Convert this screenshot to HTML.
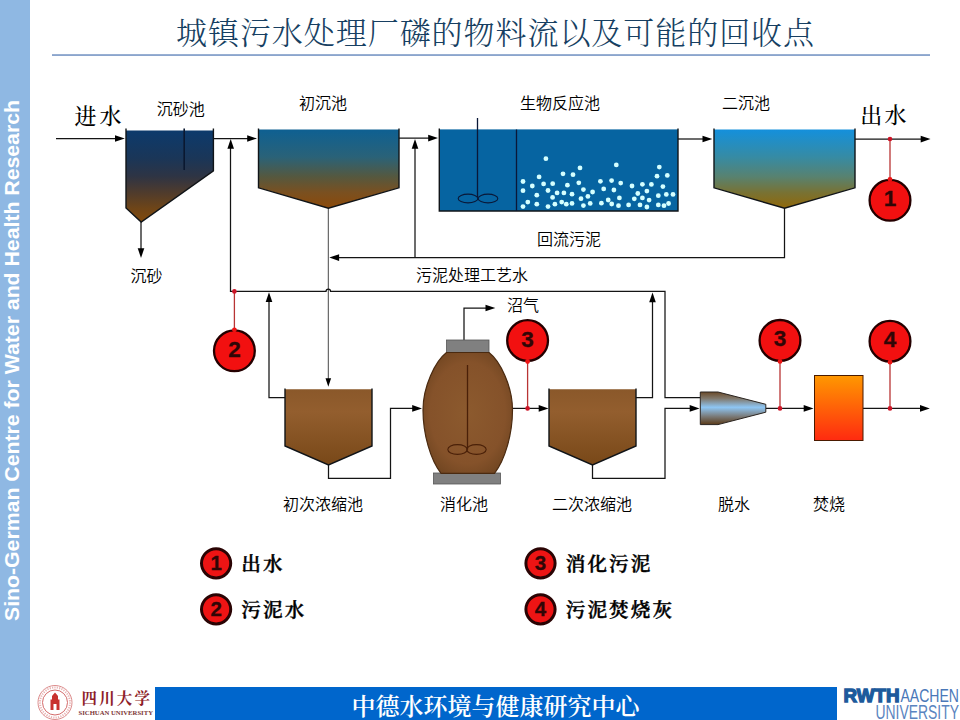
<!DOCTYPE html>
<html lang="zh-CN">
<head>
<meta charset="utf-8">
<title>城镇污水处理厂磷的物料流以及可能的回收点</title>
<style>
html,body{margin:0;padding:0;background:#fff;}
body{width:960px;height:720px;overflow:hidden;position:relative;}
svg{display:block;position:absolute;left:0;top:0;}
.serif{font-family:"Liberation Serif","Noto Serif CJK SC",serif;}
.sans{font-family:"Liberation Sans","Noto Sans CJK SC",sans-serif;}
.lbl{font-family:"Liberation Sans","Noto Sans CJK SC",sans-serif;font-size:16px;font-weight:350;fill:#000;}
.io{font-family:"Liberation Serif","Noto Serif CJK SC",serif;font-size:22px;font-weight:500;fill:#000;}
.leg{font-family:"Liberation Serif","Noto Serif CJK SC",serif;font-size:19.6px;font-weight:600;letter-spacing:2.1px;fill:#000;stroke:#000;stroke-width:0.4px;}
.num{font-family:"Liberation Sans",sans-serif;font-weight:700;fill:#300606;stroke:#300606;stroke-width:0.3px;text-anchor:middle;}
.ln{stroke:#141414;stroke-width:1.25;fill:none;}
.rl{stroke:#b83434;stroke-width:1.3;fill:none;}
.ah{fill:#000;stroke:none;}
.tk{stroke:#101418;stroke-width:1.4;fill:none;stroke-linejoin:miter;}
</style>
</head>
<body>
<svg width="960" height="720" viewBox="0 0 960 720">
<defs>
  <linearGradient id="gGrit" x1="0" y1="0" x2="0" y2="1">
    <stop offset="0" stop-color="#0c3a6c"/><stop offset="0.3" stop-color="#1a3658"/><stop offset="0.5" stop-color="#2e3444"/><stop offset="0.65" stop-color="#4a3a30"/><stop offset="0.85" stop-color="#6e4518"/><stop offset="1" stop-color="#824a0c"/>
  </linearGradient>
  <linearGradient id="gPrim" x1="0" y1="0" x2="0" y2="1">
    <stop offset="0" stop-color="#0e6092"/><stop offset="0.35" stop-color="#2a6278"/><stop offset="0.6" stop-color="#55583f"/><stop offset="0.8" stop-color="#7a5020"/><stop offset="1" stop-color="#8c4a0a"/>
  </linearGradient>
  <linearGradient id="gSec" x1="0" y1="0" x2="0" y2="1">
    <stop offset="0" stop-color="#1490dc"/><stop offset="0.35" stop-color="#368ba4"/><stop offset="0.6" stop-color="#588270"/><stop offset="0.8" stop-color="#787234"/><stop offset="1" stop-color="#90680a"/>
  </linearGradient>
  <linearGradient id="gThick" x1="0" y1="0" x2="0" y2="1">
    <stop offset="0" stop-color="#8a582a"/><stop offset="0.3" stop-color="#935e2e"/><stop offset="1" stop-color="#784818"/>
  </linearGradient>
  <radialGradient id="gDig" cx="0.5" cy="0.5" r="0.6">
    <stop offset="0" stop-color="#8c5a2e"/><stop offset="0.7" stop-color="#85522a"/><stop offset="1" stop-color="#6e4420"/>
  </radialGradient>
  <linearGradient id="gDew" x1="0" y1="0" x2="0" y2="1">
    <stop offset="0" stop-color="#6b4a28"/><stop offset="0.2" stop-color="#80786c"/><stop offset="0.47" stop-color="#8ec6f4"/><stop offset="0.75" stop-color="#7a7a78"/><stop offset="1" stop-color="#5a3a18"/>
  </linearGradient>
  <linearGradient id="gInc" x1="0" y1="0" x2="0" y2="1">
    <stop offset="0" stop-color="#ff9800"/><stop offset="1" stop-color="#ff2a10"/>
  </linearGradient>
</defs>

<!-- sidebar -->
<rect x="0" y="0" width="30" height="720" fill="#8fb8e3"/>
<text class="sans" transform="translate(19,621) rotate(-90)" font-size="20" font-weight="700" fill="#fff" textLength="521" lengthAdjust="spacingAndGlyphs">Sino-German Centre for Water and Health Research</text>

<!-- title -->
<text class="serif" x="495.500" y="43.500" font-size="31" font-weight="300" letter-spacing="0.95" text-anchor="middle" fill="#173f62">城镇污水处理厂磷的物料流以及可能的回收点</text>
<rect x="52" y="54.200" width="878" height="1.700" fill="#7f9cc8"/>

<!-- footer -->
<rect x="155" y="687" width="682" height="33" fill="#0066cc"/>
<text class="serif" x="495.500" y="715" font-size="24" font-weight="600" text-anchor="middle" fill="#fff">中德水环境与健康研究中心</text>

<!-- Sichuan University logo -->
<g id="scu">
  <circle cx="55" cy="702.500" r="17" fill="#fff" stroke="#dc8c8c" stroke-width="1"/>
  <circle cx="55" cy="702.500" r="15" fill="none" stroke="#e8b4b4" stroke-width="2" stroke-dasharray="1.2 1.2"/>
  <circle cx="55" cy="702.500" r="12.500" fill="#fff" stroke="#d46a6a" stroke-width="1"/>
  <path d="M50.500 710 V699.500 L52 699.500 L52 696 L55 692.500 L58 696 L58 699.500 L59.500 699.500 V710 H56.500 V704 H53.500 V710 Z" fill="#c8322e"/>
  <text x="81.500" y="704.200" font-size="15.500" font-weight="700" fill="#8e1e2a" class="serif" textLength="68.500" lengthAdjust="spacing">四川大学</text>
  <text x="78.500" y="715.300" font-size="6.8" font-weight="700" fill="#7c3636" class="serif" textLength="74.500" lengthAdjust="spacingAndGlyphs">SICHUAN UNIVERSITY</text>
</g>

<!-- RWTH logo -->
<g id="rwth">
  <text x="843.500" y="702" font-size="18.6" font-weight="700" fill="#1c5a9c" class="sans" textLength="56" lengthAdjust="spacingAndGlyphs" stroke="#1c5a9c" stroke-width="1.3">RWTH</text>
  <text x="900.500" y="702" font-size="18.6" fill="#4a78b8" class="sans" textLength="58.500" lengthAdjust="spacingAndGlyphs">AACHEN</text>
  <text x="875.500" y="719.300" font-size="20" fill="#5a84c0" class="sans" textLength="83.500" lengthAdjust="spacingAndGlyphs">UNIVERSITY</text>
</g>

<!-- ============ diagram ============ -->
<g class="ln">
  <path d="M56 138.5 H118"/>
  <path d="M213.400 138.5 H250"/>
  <path d="M399 138.1 H432"/>
  <path d="M678 139.0 H705"/>
  <path d="M855 139.0 H922"/>
  <path d="M141 222 V250"/>
  <path d="M328.3 208 V381" stroke-width="0.9" stroke="#333"/>
  <path d="M784.5 208 V257.6 H338"/>
  <path d="M415 257.6 V148"/>
  <path d="M230.5 148 V291.4 H326 a2.3 2.3 0 0 1 4.600 0 H665 V397.5 H700"/>
  <path d="M285 397.5 H269 V301"/>
  <path d="M636 397.5 H652.5 V301"/>
  <path d="M328.5 465 V478.4 H390.5 V408.4 H414"/>
  <path d="M592.5 465 V478.4 H665 V408.4 H692"/>
  <path d="M512 408.4 H540"/>
  <path d="M766 408.4 H805"/>
  <path d="M863 408.4 H922"/>
  <path d="M464 340 V308 H487"/>
</g>
<g class="ah">
  <path d="M124.8 138.5 l-9.8 -3.3 v6.6 z"/><path d="M257 138.5 l-9.8 -3.3 v6.6 z"/><path d="M438 138.1 l-9.8 -3.3 v6.6 z"/><path d="M712.3 139.0 l-9.8 -3.3 v6.6 z"/><path d="M930.5 139.1 l-9.8 -3.3 v6.6 z"/>
  <path d="M141 258 l-3.3 -9.8 h6.6 z"/><path d="M328.3 386.8 l-2.8 -8.6 h5.6 z"/><path d="M329.3 257.6 l9.8 -3.3 v6.6 z"/>
  <path d="M415 139 l-3.3 9.8 h6.6 z"/><path d="M230.7 139 l-3.3 9.8 h6.6 z"/><path d="M269 292.2 l-3.3 9.8 h6.6 z"/><path d="M652.5 292.5 l-3.3 9.8 h6.6 z"/>
  <path d="M422 408.4 l-9.8 -3.3 v6.6 z"/><path d="M699.5 408.4 l-9.8 -3.3 v6.6 z"/><path d="M548.5 408.4 l-9.8 -3.3 v6.6 z"/><path d="M813.5 408.4 l-9.8 -3.3 v6.6 z"/><path d="M929.8 408.4 l-9.8 -3.3 v6.6 z"/>
  <path d="M495.3 308 l-9.8 -3.3 v6.6 z"/>
</g>

<!-- grit chamber -->
<path d="M126 130.600 H213.400 V170.800 L141.200 222 L126 208 Z" fill="url(#gGrit)"/>
<path class="tk" d="M126 128.600 V208 L141.200 222 L213.400 170.800 V128.600"/>
<path d="M184.200 128.600 V170" stroke="#0a1830" stroke-width="1.6" fill="none"/>
<!-- primary clarifier -->
<path d="M258.500 129.400 H399 V187.800 L328.400 208.200 L258.500 187.800 Z" fill="url(#gPrim)"/>
<path class="tk" d="M258.500 128.600 V187.800 L328.400 208.200 L399 187.800 V128.600"/>
<!-- bio reactor -->
<rect x="439.300" y="129.400" width="238.700" height="81.600" fill="#0664a1"/>
<path class="tk" d="M439.300 128.600 V211 H678 V128.600" stroke="#081c38"/>
<path d="M516.500 129.400 V211 M477.500 118 V197" stroke="#0a1838" stroke-width="1.3" fill="none"/>
<ellipse cx="468" cy="198.500" rx="9.800" ry="4.400" fill="none" stroke="#0a1838" stroke-width="1.1"/>
<ellipse cx="488" cy="198.500" rx="9.800" ry="4.400" fill="none" stroke="#0a1838" stroke-width="1.1"/>
<g id="bubbles" fill="#d4ffff"><circle cx="545.9" cy="158.7" r="2.4"/><circle cx="580.0" cy="167.9" r="2.4"/><circle cx="563.0" cy="173.8" r="2.4"/><circle cx="573.0" cy="174.7" r="2.4"/><circle cx="539.1" cy="176.9" r="2.4"/><circle cx="523.0" cy="181.5" r="2.4"/><circle cx="578.8" cy="182.8" r="2.4"/><circle cx="543.6" cy="183.9" r="2.4"/><circle cx="552.7" cy="183.7" r="2.4"/><circle cx="567.4" cy="185.2" r="2.4"/><circle cx="532.3" cy="186.0" r="2.4"/><circle cx="583.4" cy="189.6" r="2.4"/><circle cx="523.0" cy="190.7" r="2.4"/><circle cx="548.0" cy="190.5" r="2.4"/><circle cx="592.6" cy="192.0" r="2.4"/><circle cx="557.1" cy="192.9" r="2.4"/><circle cx="563.9" cy="192.9" r="2.4"/><circle cx="572.0" cy="194.2" r="2.4"/><circle cx="536.8" cy="195.2" r="2.4"/><circle cx="587.9" cy="196.4" r="2.4"/><circle cx="552.6" cy="197.4" r="2.4"/><circle cx="581.0" cy="198.7" r="2.4"/><circle cx="527.8" cy="202.1" r="2.4"/><circle cx="561.7" cy="202.1" r="2.4"/><circle cx="554.9" cy="204.2" r="2.4"/><circle cx="566.3" cy="204.2" r="2.4"/><circle cx="572.0" cy="203.4" r="2.4"/><circle cx="590.2" cy="203.4" r="2.4"/><circle cx="536.8" cy="204.2" r="2.4"/><circle cx="583.4" cy="205.6" r="2.4"/><circle cx="523.0" cy="206.6" r="2.4"/><circle cx="548.0" cy="206.6" r="2.4"/><circle cx="616.3" cy="164.9" r="2.4"/><circle cx="659.3" cy="167.1" r="2.4"/><circle cx="657.0" cy="176.2" r="2.4"/><circle cx="667.3" cy="175.4" r="2.4"/><circle cx="600.4" cy="181.3" r="2.4"/><circle cx="611.6" cy="180.6" r="2.4"/><circle cx="620.7" cy="183.1" r="2.4"/><circle cx="632.0" cy="186.0" r="2.4"/><circle cx="642.4" cy="184.3" r="2.4"/><circle cx="651.4" cy="184.4" r="2.4"/><circle cx="662.9" cy="186.6" r="2.4"/><circle cx="603.7" cy="188.9" r="2.4"/><circle cx="613.9" cy="190.0" r="2.4"/><circle cx="646.9" cy="191.1" r="2.4"/><circle cx="637.8" cy="193.5" r="2.4"/><circle cx="658.3" cy="195.7" r="2.4"/><circle cx="666.3" cy="194.4" r="2.4"/><circle cx="673.0" cy="194.4" r="2.4"/><circle cx="619.4" cy="197.9" r="2.4"/><circle cx="634.3" cy="198.8" r="2.4"/><circle cx="642.4" cy="197.9" r="2.4"/><circle cx="649.1" cy="200.1" r="2.4"/><circle cx="608.2" cy="200.0" r="2.4"/><circle cx="601.4" cy="203.2" r="2.4"/><circle cx="611.7" cy="204.0" r="2.4"/><circle cx="618.5" cy="205.7" r="2.4"/><circle cx="628.6" cy="204.9" r="2.4"/><circle cx="640.0" cy="204.9" r="2.4"/><circle cx="646.9" cy="207.0" r="2.4"/><circle cx="658.3" cy="204.9" r="2.4"/><circle cx="664.0" cy="205.7" r="2.4"/><circle cx="668.6" cy="203.5" r="2.4"/></g>
<!-- secondary clarifier -->
<path d="M714 129.400 H855 V187.800 L784.500 208.200 L714 187.800 Z" fill="url(#gSec)"/>
<path class="tk" d="M714 128.600 V187.800 L784.500 208.200 L855 187.800 V128.600"/>

<!-- primary thickener -->
<path d="M285 389.200 H372 V446 L328.500 465 L285 446 Z" fill="url(#gThick)"/>
<path class="tk" d="M285 388.400 V446 L328.500 465 L372 446 V388.400" stroke="#1c0c00"/>
<!-- secondary thickener -->
<path d="M549 389.200 H636 V446 L592.500 465 L549 446 Z" fill="url(#gThick)"/>
<path class="tk" d="M549 388.400 V446 L592.500 465 L636 446 V388.400" stroke="#1c0c00"/>
<!-- digester -->
<rect x="446.5" y="340" width="42.500" height="12.500" fill="#808080" stroke="#555" stroke-width="0.8"/>
<rect x="433.500" y="473" width="67" height="11" fill="#808080" stroke="#555" stroke-width="0.8"/>
<path d="M446.500 352.500 H489 C500 361 512.500 386 512.500 410 C512.500 434 505 460 494.500 473.300 H441 C430.500 460 423 434 423 410 C423 386 435.500 361 446.500 352.500 Z" fill="url(#gDig)" stroke="#4a2a10" stroke-width="1.2"/>
<path d="M467.500 365 V449.500" stroke="#4a2008" stroke-width="1.3" fill="none"/>
<ellipse cx="457.500" cy="449.500" rx="9.700" ry="4.900" fill="none" stroke="#4a2008" stroke-width="1.1"/>
<ellipse cx="476.500" cy="449.500" rx="9.700" ry="4.900" fill="none" stroke="#4a2008" stroke-width="1.1"/>
<!-- dewatering -->
<path d="M700.300 392 H718 L765.800 404.300 V412.200 L718 424.600 H700.300 Z" fill="url(#gDew)" stroke="#2a2420" stroke-width="1"/>
<!-- incinerator -->
<rect x="814.500" y="375.500" width="48.500" height="65" fill="url(#gInc)" stroke="#4a1a00" stroke-width="1"/>

<!-- red markers -->
<g>
<path class="rl" d="M890 139.0 V179.9"/><circle cx="890" cy="139.0" r="2.3" fill="#cc1426"/><circle cx="890" cy="200.3" r="20.4" fill="#f21010" stroke="#240000" stroke-width="2.3"/><circle cx="890" cy="179.3" r="2.4" fill="#f01414"/><text class="num" x="890" y="206.3" font-size="22.5">1</text>
<path class="rl" d="M234.4 291.4 V330.4"/><circle cx="234.4" cy="291.4" r="2.3" fill="#cc1426"/><circle cx="234.4" cy="350.8" r="20.4" fill="#f21010" stroke="#240000" stroke-width="2.3"/><circle cx="234.4" cy="329.8" r="2.4" fill="#f01414"/><text class="num" x="234.4" y="356.8" font-size="22.5">2</text>
<path class="rl" d="M527.6 408.4 V360.9"/><circle cx="527.6" cy="408.4" r="2.3" fill="#cc1426"/><circle cx="527.6" cy="340.5" r="20.4" fill="#f21010" stroke="#240000" stroke-width="2.3"/><circle cx="527.6" cy="361.5" r="2.4" fill="#f01414"/><text class="num" x="527.6" y="346.5" font-size="22.5">3</text>
<path class="rl" d="M780 408.4 V360.8"/><circle cx="780" cy="408.4" r="2.3" fill="#cc1426"/><circle cx="780" cy="340.4" r="20.4" fill="#f21010" stroke="#240000" stroke-width="2.3"/><circle cx="780" cy="361.4" r="2.4" fill="#f01414"/><text class="num" x="780" y="346.4" font-size="22.5">3</text>
<path class="rl" d="M890 408.4 V361.6"/><circle cx="890" cy="408.4" r="2.3" fill="#cc1426"/><circle cx="890" cy="341.2" r="20.4" fill="#f21010" stroke="#240000" stroke-width="2.3"/><circle cx="890" cy="362.2" r="2.4" fill="#f01414"/><text class="num" x="890" y="347.2" font-size="22.5">4</text>
</g>

<!-- labels -->
<text class="io" x="74.500" y="123.800" textLength="47">进水</text>
<text class="io" x="860.300" y="122.700" textLength="46.300">出水</text>
<text class="lbl" x="156.800" y="114.800">沉砂池</text>
<text class="lbl" x="299" y="109">初沉池</text>
<text class="lbl" x="520" y="109">生物反应池</text>
<text class="lbl" x="722" y="109">二沉池</text>
<text class="lbl" x="130.600" y="282">沉砂</text>
<text class="lbl" x="537" y="245">回流污泥</text>
<text class="lbl" x="416" y="281">污泥处理工艺水</text>
<text class="lbl" x="507" y="311">沼气</text>
<text class="lbl" x="283" y="510">初次浓缩池</text>
<text class="lbl" x="440" y="510">消化池</text>
<text class="lbl" x="552" y="510">二次浓缩池</text>
<text class="lbl" x="718" y="510">脱水</text>
<text class="lbl" x="813" y="510">焚烧</text>

<!-- legend -->
<g>
<circle cx="216.1" cy="563.3" r="14.6" fill="#ee1414" stroke="#2a0404" stroke-width="3"/><text class="num" x="216.1" y="570.3" font-size="20.5">1</text><text class="leg" x="241.3" y="571.4">出水</text>
<circle cx="216.1" cy="609.3" r="14.6" fill="#ee1414" stroke="#2a0404" stroke-width="3"/><text class="num" x="216.1" y="616.3" font-size="20.5">2</text><text class="leg" x="241.3" y="617.4">污泥水</text>
<circle cx="540.5" cy="563.3" r="14.6" fill="#ee1414" stroke="#2a0404" stroke-width="3"/><text class="num" x="540.5" y="570.3" font-size="20.5">3</text><text class="leg" x="565.7" y="571.4">消化污泥</text>
<circle cx="540.5" cy="609.3" r="14.6" fill="#ee1414" stroke="#2a0404" stroke-width="3"/><text class="num" x="540.5" y="616.3" font-size="20.5">4</text><text class="leg" x="565.7" y="617.4">污泥焚烧灰</text>
</g>
</svg>
</body>
</html>
